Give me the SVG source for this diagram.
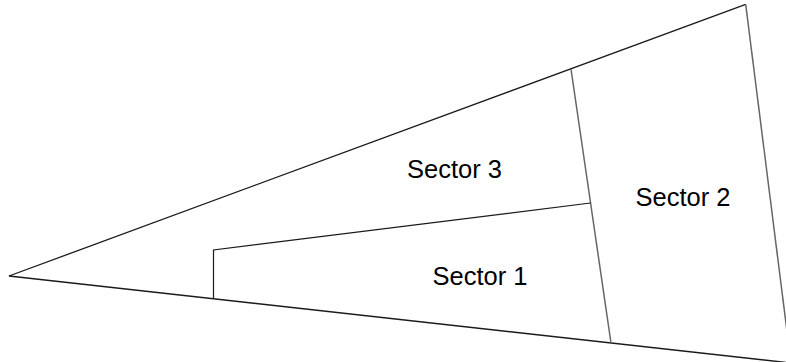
<svg xmlns="http://www.w3.org/2000/svg" width="786" height="362" viewBox="0 0 786 362">
<style>
.outline{fill:none;stroke:#1a1a1a;stroke-width:1.3;stroke-linejoin:miter}
.div{fill:none;stroke:#666;stroke-width:1.5}
.inner{fill:none;stroke:#1a1a1a;stroke-width:1.2}
.lbl{font-family:"Liberation Sans",Arial,sans-serif;font-size:25.5px;fill:#000;text-anchor:middle}
</style>
<rect width="786" height="362" fill="#fff"/>
<g id="connectors">
<polyline class="outline" points="745.7,4.3 9,276 791,363"/>
<line class="div" x1="571" y1="69" x2="611" y2="343"/>
<line class="div" x1="745.7" y1="4.3" x2="791" y2="363"/>
<polyline class="inner" points="590.5,203 213.5,250 213.5,299"/>
</g>
<g id="sector3"><text class="lbl" x="454.5" y="178">Sector 3</text></g>
<g id="sector2"><text class="lbl" x="683" y="206">Sector 2</text></g>
<g id="sector1"><text class="lbl" x="480" y="285">Sector 1</text></g>
</svg>
